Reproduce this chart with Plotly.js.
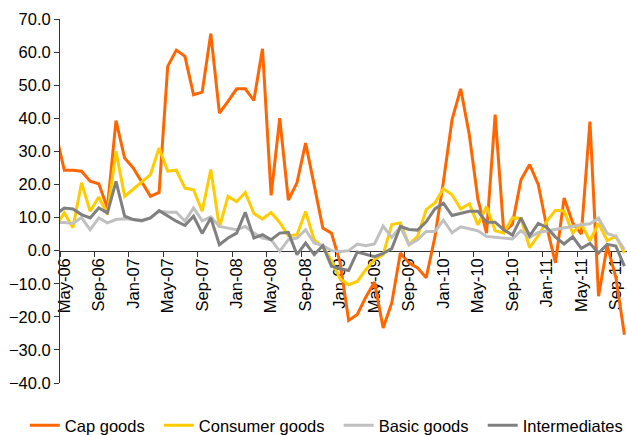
<!DOCTYPE html>
<html>
<head>
<meta charset="utf-8">
<script src="https://cdn.plot.ly/plotly-3.0.1.min.js"></script>
<style>html,body{margin:0;padding:0;background:#fff;}#chart{width:627px;height:435px;}</style>
</head>
<body>
<div id="chart"></div>
<script>
// Monthly observations (the first one, Apr-06, sits just left of the visible axis)
const months = ["Apr-06","May-06","Jun-06","Jul-06","Aug-06","Sep-06","Oct-06","Nov-06","Dec-06",
  "Jan-07","Feb-07","Mar-07","Apr-07","May-07","Jun-07","Jul-07","Aug-07","Sep-07","Oct-07","Nov-07","Dec-07",
  "Jan-08","Feb-08","Mar-08","Apr-08","May-08","Jun-08","Jul-08","Aug-08","Sep-08","Oct-08","Nov-08","Dec-08",
  "Jan-09","Feb-09","Mar-09","Apr-09","May-09","Jun-09","Jul-09","Aug-09","Sep-09","Oct-09","Nov-09","Dec-09",
  "Jan-10","Feb-10","Mar-10","Apr-10","May-10","Jun-10","Jul-10","Aug-10","Sep-10","Oct-10","Nov-10","Dec-10",
  "Jan-11","Feb-11","Mar-11","Apr-11","May-11","Jun-11","Jul-11","Aug-11","Sep-11","Oct-11"];

const capGoods = [35.7,
  24.3,24.3,24.0,21.0,20.2,12.9,39.3,28.0,25.0,20.7,16.4,17.6,55.7,60.6,58.7,47.1,47.9,65.6,41.6,45.1,
  48.9,48.9,45.4,61.0,16.7,40.0,15.3,20.5,32.5,19.8,6.8,5.3,-3.5,-21.1,-19.3,-14.0,-9.5,-23.4,-15.8,-0.7,
  -3.7,-5.2,-8.2,4.0,21.0,39.6,48.9,35.0,15.5,5.3,41.1,5.5,8.0,21.4,26.0,20.0,7.0,-3.7,15.9,8.4,
  5.0,39.0,-13.8,1.5,-8.0,-25.4];

const consumerGoods = [7.4,
  11.4,6.9,20.5,11.9,16.2,11.0,30.0,16.4,18.6,20.6,23.0,31.0,24.0,24.3,18.9,18.4,11.9,24.5,7.0,16.4,
  14.8,17.6,11.2,9.6,11.5,8.5,4.5,4.8,11.8,3.2,1.2,-3.0,-8.5,-10.3,-9.3,-5.7,-2.7,-1.2,7.9,8.4,
  1.8,4.3,12.4,14.4,18.7,16.9,12.6,14.2,7.8,13.4,6.0,5.3,9.9,9.7,0.9,4.5,8.9,12.2,12.0,5.3,
  8.0,3.0,8.2,3.0,4.4,-0.7];

const basicGoods = [8.5,
  8.5,8.2,10.0,6.3,9.9,8.4,9.4,9.6,9.4,8.9,9.9,11.9,11.6,11.6,8.9,12.9,9.0,10.2,7.3,6.8,
  6.3,7.3,5.3,3.8,3.3,-0.2,3.3,3.8,6.3,2.3,1.5,0.0,-0.3,0.0,2.0,1.5,2.0,7.4,4.0,7.2,
  1.8,3.3,5.8,5.8,9.2,5.4,7.2,6.6,6.0,4.3,4.0,3.8,3.5,6.0,4.0,5.5,6.0,6.5,7.0,7.3,
  7.8,8.1,9.8,5.2,4.3,0.3];

const intermediates = [10.9,
  12.9,12.6,10.9,9.9,12.9,11.4,20.9,10.4,9.4,9.1,9.9,12.1,10.4,8.9,7.6,10.4,5.2,9.9,1.8,3.8,
  5.3,11.6,3.8,4.8,3.3,5.3,5.5,-1.2,2.3,-1.2,1.5,-4.7,-5.5,-6.0,-0.4,-1.0,-1.8,-0.8,0.6,7.3,
  6.4,6.2,8.7,12.6,14.3,10.6,11.3,11.9,11.9,8.6,8.6,6.3,4.7,9.9,4.5,8.2,7.0,4.1,2.0,4.2,
  0.7,2.2,-0.7,1.9,1.4,-4.7];

const tickLabels = ["May-06","Sep-06","Jan-07","May-07","Sep-07","Jan-08","May-08","Sep-08",
  "Jan-09","May-09","Sep-09","Jan-10","May-10","Sep-10","Jan-11","May-11","Sep-11"];

const seriesNames = ["Cap goods","Consumer goods","Basic goods","Intermediates"];
const seriesColors = ["#FF6600","#FFCC00","#C0C0C0","#808080"];
const seriesData = [capGoods, consumerGoods, basicGoods, intermediates];

// x position of each month: May-06 = 0
const xs = months.map((m, i) => i - 1);
const labelPos = tickLabels.map(l => months.indexOf(l) - 1);
const tickPos = labelPos.map(p => p - 0.5);

const pad = '\u00a0\u00a0';
const traces = seriesData.map((d, k) => ({
  type: 'scatter', mode: 'lines',
  name: seriesNames[k] + (k < seriesNames.length - 1 ? pad : ''),
  x: xs, y: d, text: months,
  line: {color: seriesColors[k], width: 3},
  hovertemplate: '%{text}: %{y:.1f}<extra>' + seriesNames[k] + '</extra>'
}));
// invisible trace on the tick-mark axis so it is drawn
traces.push({type:'scatter', mode:'lines', x:[-0.5,65], y:[0,0], xaxis:'x2', showlegend:false,
  hoverinfo:'skip', line:{color:'rgba(0,0,0,0)', width:0}});

const xRange = [-0.5, 65.3];
const zeroPos = 40/110;
const fontFam = '"Liberation Sans", Arial, sans-serif';

const layout = {
  width: 627, height: 435,
  margin: {l: 60, r: 0, t: 19, b: 52, autoexpand: false},
  paper_bgcolor: '#fff', plot_bgcolor: '#fff',
  font: {family: fontFam, size: 16.5, color: '#000'},
  showlegend: true,
  legend: {orientation: 'h', x: -0.062, xanchor: 'left', y: -0.117, yanchor: 'middle',
    font: {family: fontFam, size: 16.5, color: '#000'}},
  xaxis: {
    range: xRange, anchor: 'free', position: zeroPos,
    showgrid: false, zeroline: false,
    showline: true, linecolor: '#333', linewidth: 1,
    tickmode: 'array', tickvals: labelPos, ticktext: tickLabels,
    ticks: '', tickangle: -90, layer: 'below traces',
    tickfont: {family: fontFam, size: 16.5, color: '#000'}
  },
  xaxis2: {
    range: xRange, overlaying: 'x', anchor: 'free', position: zeroPos,
    showgrid: false, zeroline: false, showline: false,
    tickmode: 'array', tickvals: tickPos, ticks: 'outside', ticklen: 5,
    tickcolor: '#333', showticklabels: false
  },
  yaxis: {
    range: [-40, 70], dtick: 10, tick0: 0, tickformat: '.1f',
    showgrid: false, zeroline: false,
    showline: true, linecolor: '#333', linewidth: 1,
    ticks: 'outside', ticklen: 5, tickcolor: '#333',
    tickfont: {family: fontFam, size: 16.5, color: '#000'}
  }
};

Plotly.newPlot('chart', traces, layout, {displayModeBar: false, staticPlot: true});
</script>
</body>
</html>
